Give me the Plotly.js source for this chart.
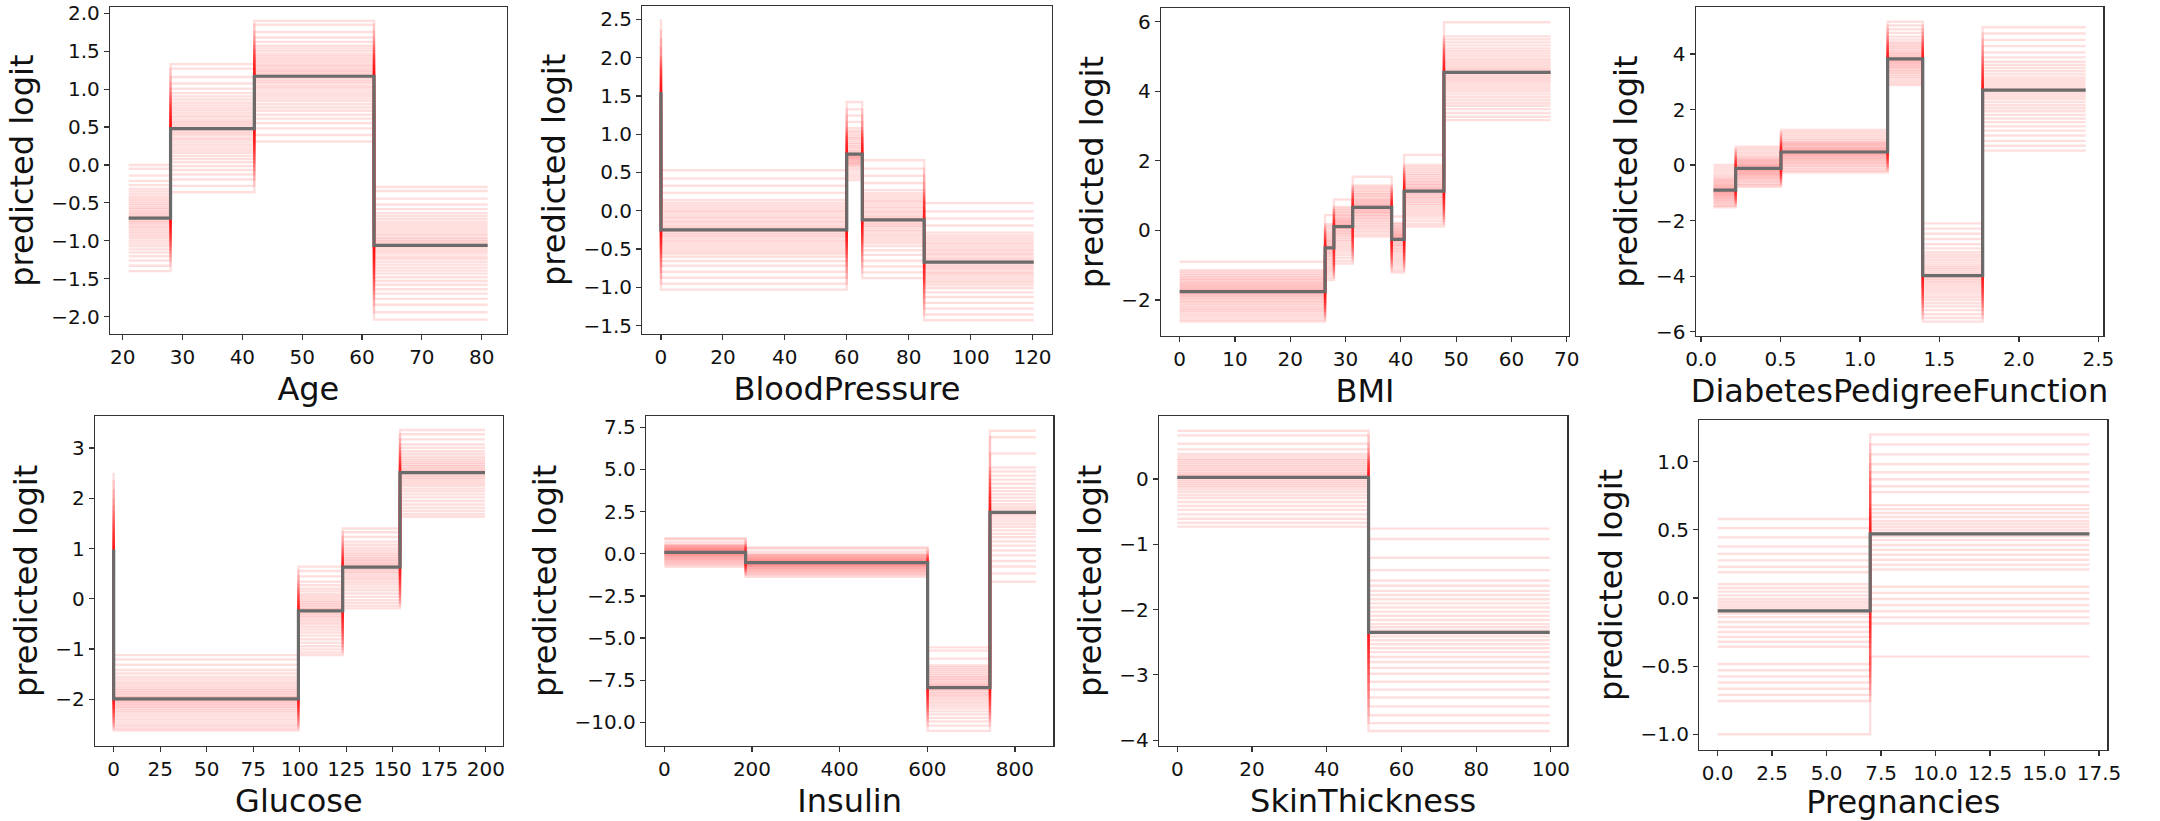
<!DOCTYPE html>
<html>
<head>
<meta charset="utf-8">
<script src="https://cdn.plot.ly/plotly-3.0.1.min.js"></script>
<style>html,body{margin:0;padding:0;background:#fff;}#chart{width:2160px;height:821px;}</style>
</head>
<body>
<div id="chart"></div>
<script>
// ---------- data ----------
// feature names
const features = ["Age", "BloodPressure", "BMI", "DiabetesPedigreeFunction",
                  "Glucose", "Insulin", "SkinThickness", "Pregnancies"];

// Age
const ageX    = [21, 28, 42, 62, 81];
const ageMean = [-0.70, 0.48, 1.17, -1.06];
const ageLo   = [-1.40, -0.36, 0.31, -2.04];
const ageHi   = [0.00, 1.33, 1.90, -0.29];
const ageDev  = [1.0, 0.93, 0.8, 0.7, 0.62, 0.55, 0.5, 0.45, 0.4, 0.36, 0.32, 0.28, 0.24, 0.2, 0.17, 0.13, 0.1, 0.07, 0.04, 0.01, -0.02, -0.05, -0.08, -0.11, -0.15, -0.18, -0.22, -0.26, -0.3, -0.34, -0.38, -0.43, -0.48, -0.53, -0.59, -0.65, -0.72, -0.8, -0.9, -1.0];

// BloodPressure (first value is the grid point at 0)
const bpX    = [0, 0, 60, 65, 85, 120.4];
const bpMean = [1.55, -0.25, 0.74, -0.12, -0.67];
const bpLo   = [0.55, -1.03, 0.40, -0.88, -1.43];
const bpHi   = [2.50, 0.53, 1.42, 0.66, 0.10];
const bpDev  = [1.0, 0.86, 0.74, 0.62, 0.5, 0.45, 0.41, 0.37, 0.33, 0.3, 0.26, 0.22, 0.19, 0.15, 0.12, 0.08, 0.05, 0.02, -0.01, -0.04, -0.07, -0.1, -0.13, -0.17, -0.2, -0.24, -0.28, -0.32, -0.36, -0.4, -0.45, -0.52, -0.6, -0.7, -0.8, -0.9, -1.0];

// BMI
const bmiX    = [0, 26.3, 27.9, 31.3, 38.35, 40.6, 47.8, 67.1];
const bmiMean = [-1.76, -0.50, 0.11, 0.66, -0.26, 1.13, 4.54];
const bmiLo   = [-2.62, -1.43, -0.95, -0.18, -1.21, 0.11, 3.17];
const bmiHi   = [-0.90, 0.44, 0.89, 1.54, 0.40, 2.17, 5.98];
const bmiDev  = [1.0, 0.72, 0.66, 0.6, 0.54, 0.48, 0.43, 0.38, 0.33, 0.28, 0.24, 0.2, 0.16, 0.12, 0.08, 0.05, 0.02, -0.01, -0.04, -0.08, -0.12, -0.16, -0.2, -0.25, -0.3, -0.35, -0.4, -0.46, -0.52, -0.58, -0.64, -0.7, -0.77, -0.85, -0.93, -1.0];

// DiabetesPedigreeFunction
const dpfX    = [0.078, 0.218, 0.503, 1.174, 1.395, 1.772, 2.42];
const dpfMean = [-0.90, -0.12, 0.47, 3.82, -3.98, 2.70];
const dpfLo   = [-1.52, -0.78, -0.27, 2.88, -5.64, 0.52];
const dpfHi   = [0.00, 0.66, 1.26, 5.16, -2.10, 4.96];
const dpfDev  = [1.0, 0.9, 0.8, 0.7, 0.6, 0.52, 0.45, 0.4, 0.35, 0.3, 0.25, 0.2, 0.16, 0.12, 0.08, 0.04, 0.01, -0.03, -0.07, -0.11, -0.15, -0.2, -0.25, -0.3, -0.35, -0.41, -0.47, -0.53, -0.6, -0.67, -0.75, -0.84, -0.92, -1.0];

// Glucose (first value is the grid point at 0)
const gluX    = [0, 0, 99.3, 123.1, 153.9, 199.6];
const gluMean = [0.98, -1.99, -0.24, 0.63, 2.51];
const gluLo   = [-0.30, -2.62, -1.12, -0.19, 1.63];
const gluHi   = [2.51, -1.12, 0.64, 1.40, 3.36];
const gluDev  = [1.0, 0.9, 0.78, 0.66, 0.58, 0.5, 0.44, 0.38, 0.33, 0.28, 0.23, 0.19, 0.15, 0.11, 0.07, 0.04, 0.01, -0.03, -0.07, -0.11, -0.15, -0.2, -0.25, -0.3, -0.36, -0.42, -0.49, -0.56, -0.64, -0.72, -0.8, -0.87, -0.94, -1.0];

// Insulin
const insX    = [0, 185.5, 600.8, 743, 848];
const insMean = [0.08, -0.53, -7.94, 2.46];
const insLo   = [-0.77, -1.36, -10.50, -1.66];
const insHi   = [0.92, 0.38, -5.55, 7.30];
const insDev  = [1.0, 0.92, 0.72, 0.55, 0.5, 0.45, 0.4, 0.35, 0.3, 0.26, 0.22, 0.18, 0.14, 0.1, 0.07, 0.04, 0.01, -0.02, -0.05, -0.09, -0.13, -0.17, -0.21, -0.26, -0.31, -0.36, -0.42, -0.48, -0.55, -0.62, -0.7, -0.78, -0.88, -1.0];

// SkinThickness
const skinX    = [0, 51.2, 99.7];
const skinMean = [0.026, -2.35];
const skinLo   = [-0.73, -3.86];
const skinHi   = [0.74, -0.76];
const skinDev  = [1.0, 0.9, 0.72, 0.6, 0.5, 0.45, 0.4, 0.36, 0.32, 0.28, 0.24, 0.2, 0.16, 0.12, 0.08, 0.05, 0.02, -0.01, -0.04, -0.08, -0.12, -0.16, -0.2, -0.25, -0.3, -0.36, -0.42, -0.5, -0.58, -0.66, -0.75, -0.84, -0.92, -1.0];

// Pregnancies
const pregX    = [0, 7.0, 17.06];
const pregMean = [-0.095, 0.47];
const pregLo   = [-1.00, -0.43];
const pregHi   = [0.58, 1.20];
const pregDev  = [1.0, 0.9, 0.8, 0.7, 0.62, 0.55, 0.48, 0.42, 0.29, 0.25, 0.21, 0.17, 0.13, 0.1, 0.07, 0.04, 0.01, -0.02, -0.05, -0.09, -0.13, -0.17, -0.21, -0.25, -0.29, -0.43, -0.48, -0.53, -0.58, -0.63, -0.68, -0.73, -1.0];

// ---------- panels ----------
const panels = [
  {x: ageX,  mean: ageMean,  lo: ageLo,  hi: ageHi,  dev: ageDev},
  {x: bpX,   mean: bpMean,   lo: bpLo,   hi: bpHi,   dev: bpDev},
  {x: bmiX,  mean: bmiMean,  lo: bmiLo,  hi: bmiHi,  dev: bmiDev},
  {x: dpfX,  mean: dpfMean,  lo: dpfLo,  hi: dpfHi,  dev: dpfDev},
  {x: gluX,  mean: gluMean,  lo: gluLo,  hi: gluHi,  dev: gluDev},
  {x: insX,  mean: insMean,  lo: insLo,  hi: insHi,  dev: insDev},
  {x: skinX, mean: skinMean, lo: skinLo, hi: skinHi, dev: skinDev},
  {x: pregX, mean: pregMean, lo: pregLo, hi: pregHi, dev: pregDev}
];

// axis styling per panel (pixel boxes, ranges, ticks)
const W = 2160, H = 821;
const boxes = [
  [110, 506.7, 7.3, 334], [642.3, 1051.7, 5.7, 334], [1161, 1569, 8.3, 336], [1695.7, 2103.3, 7.3, 336],
  [95, 502.7, 415.7, 746], [646, 1053.3, 415.7, 746], [1159, 1567.3, 415.7, 746], [1699.3, 2107.3, 420, 750]
];
const xr = [[17.88, 84.18], [-6.03, 126.2], [-3.38, 70.42], [-0.0336, 2.531],
            [-10.04, 209.1], [-41.8, 887.5], [-4.9, 104.4], [-0.84, 17.88]];
const yr = [[-2.229, 2.079], [-1.609, 2.678], [-3.035, 6.383], [-6.156, 5.68],
            [-2.928, 3.643], [-11.4, 8.19], [-4.09, 0.97], [-1.115, 1.306]];
const xdt = [10, 20, 10, 0.5, 25, 200, 20, 2.5];
const ydt = [0.5, 0.5, 2, 2, 1, 2.5, 1, 0.5];
const xfmt = ['', '', '', '.1f', '', '', '', '.1f'];
const yfmt = ['.1f', '.1f', '', '', '', '.1f', '', '.1f'];

const traces = [];
const layout = {
  width: W, height: H,
  margin: {l: 0, r: 0, t: 0, b: 0},
  paper_bgcolor: '#ffffff', plot_bgcolor: '#ffffff',
  showlegend: false,
  font: {family: 'DejaVu Sans', color: '#111111'}
};

panels.forEach((p, k) => {
  const ax = k === 0 ? '' : String(k + 1);
  const n = p.mean.length;
  function stepXY(vals) {
    const xs = [], ys = [];
    for (let s = 0; s < n; s++) { xs.push(p.x[s]); ys.push(vals[s]); }
    xs.push(p.x[n]); ys.push(vals[n - 1]);
    return [xs, ys];
  }
  // individual (ICE) curves
  p.dev.forEach(d => {
    const vals = p.mean.map((m, s) => d >= 0 ? m + d * (p.hi[s] - m) : m + d * (m - p.lo[s]));
    const [xs, ys] = stepXY(vals);
    traces.push({type: 'scatter', mode: 'lines', x: xs, y: ys, xaxis: 'x' + ax, yaxis: 'y' + ax,
      line: {color: 'rgba(255,0,0,0.13)', width: 2.4, shape: 'hv'}, hoverinfo: 'skip'});
  });
  // average curve
  const [mx, my] = stepXY(p.mean);
  traces.push({type: 'scatter', mode: 'lines', x: mx, y: my, xaxis: 'x' + ax, yaxis: 'y' + ax,
    line: {color: '#6b6b6b', width: 3.2, shape: 'hv'}, hoverinfo: 'skip'});

  const b = boxes[k];
  const common = {showgrid: false, zeroline: false, showline: true, mirror: true,
    linecolor: '#333333', linewidth: 1.2, ticks: 'outside', ticklen: 5, tickwidth: 1.2,
    tickcolor: '#333333', tickfont: {size: 20, family: 'DejaVu Sans', color: '#111111'}};
  layout['xaxis' + ax] = Object.assign({}, common, {
    domain: [b[0] / W, b[1] / W], anchor: 'y' + ax, range: xr[k],
    dtick: xdt[k], tick0: 0, tickformat: xfmt[k],
    title: {text: features[k], font: {size: 32, family: 'DejaVu Sans', color: '#111111'}, standoff: 9}
  });
  layout['yaxis' + ax] = Object.assign({}, common, {
    domain: [1 - b[3] / H, 1 - b[2] / H], anchor: 'x' + ax, range: yr[k],
    dtick: ydt[k], tick0: 0, tickformat: yfmt[k],
    title: {text: 'predicted logit', font: {size: 32, family: 'DejaVu Sans', color: '#111111'}, standoff: 8}
  });
});

Plotly.newPlot('chart', traces, layout, {staticPlot: true, displayModeBar: false});
</script>
</body>
</html>
